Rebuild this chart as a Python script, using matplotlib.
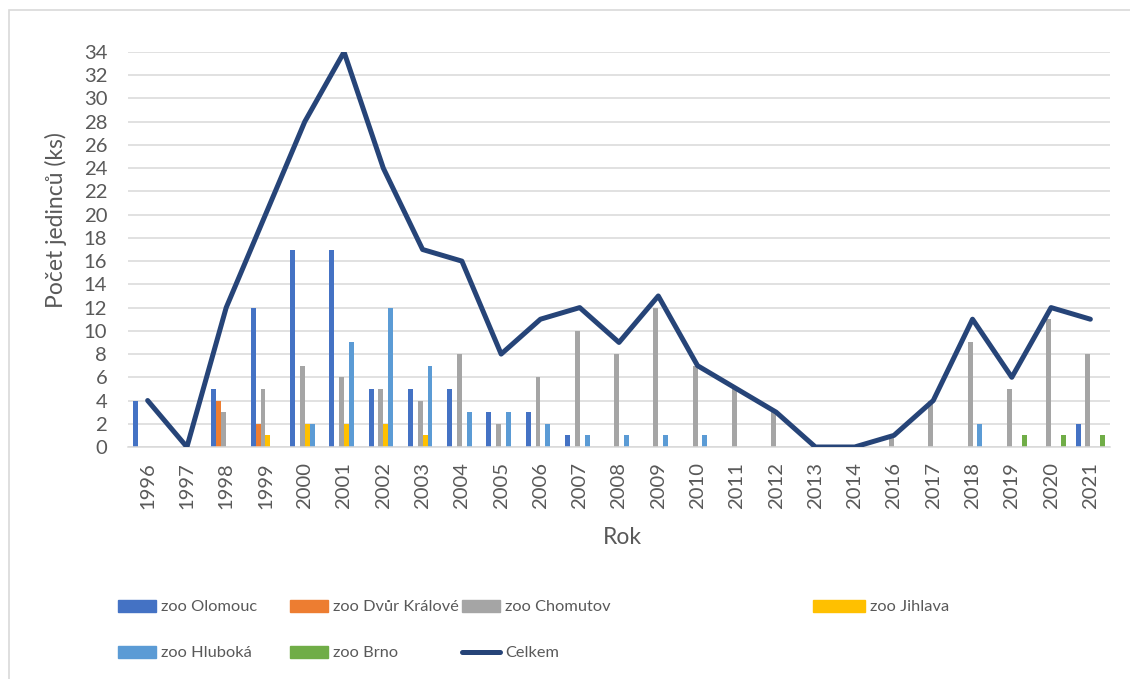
import numpy as np
import matplotlib
matplotlib.use("Agg")
import matplotlib.pyplot as plt
from matplotlib.patches import Patch, Rectangle
from matplotlib.lines import Line2D

plt.rcParams['font.family'] = ['Lato', 'DejaVu Sans']

# Data
years = ['1996', '1997', '1998', '1999', '2000', '2001', '2002', '2003', '2004',
         '2005', '2006', '2007', '2008', '2009', '2010', '2011', '2012', '2013',
         '2014', '2016', '2017', '2018', '2019', '2020', '2021']
olomouc = [4, 0, 5, 12, 17, 17, 5, 5, 5, 3, 3, 1, 0, 0, 0, 0, 0, 0, 0, 0, 0, 0, 0, 0, 2]
dvur_kralove = [0, 0, 4, 2, 0, 0, 0, 0, 0, 0, 0, 0, 0, 0, 0, 0, 0, 0, 0, 0, 0, 0, 0, 0, 0]
chomutov = [0, 0, 3, 5, 7, 6, 5, 4, 8, 2, 6, 10, 8, 12, 7, 5, 3, 0, 0, 1, 4, 9, 5, 11, 8]
jihlava = [0, 0, 0, 1, 2, 2, 2, 1, 0, 0, 0, 0, 0, 0, 0, 0, 0, 0, 0, 0, 0, 0, 0, 0, 0]
hluboka = [0, 0, 0, 0, 2, 9, 12, 7, 3, 3, 2, 1, 1, 1, 1, 0, 0, 0, 0, 0, 0, 2, 0, 0, 0]
brno = [0, 0, 0, 0, 0, 0, 0, 0, 0, 0, 0, 0, 0, 0, 0, 0, 0, 0, 0, 0, 0, 0, 1, 1, 1]
celkem = [4, 0, 12, 20, 28, 34, 24, 17, 16, 8, 11, 12, 9, 13, 7, 5, 3, 0, 0, 1, 4, 11, 6, 12, 11]

series_names = ['zoo Olomouc', 'zoo Dvůr Králové', 'zoo Chomutov', 'zoo Jihlava',
                'zoo Hluboká', 'zoo Brno']
series_values = [olomouc, dvur_kralove, chomutov, jihlava, hluboka, brno]
colors = ['#4472C4', '#ED7D31', '#A5A5A5', '#FFC000', '#5B9BD5', '#70AD47']
line_color = '#264478'
text_color = '#595959'

W, H = 1130, 679
fig = plt.figure(figsize=(W / 100, H / 100), dpi=100)
ax = fig.add_axes([128 / W, 1 - 447 / H, (1110 - 128) / W, (447 - 52) / H])

# chart border
fig.patches.append(Rectangle((9 / W, -0.02), 1.05, 1 - 10 / H + 0.02, transform=fig.transFigure,
                             fill=False, edgecolor='#D9D9D9', linewidth=1.2))

x = np.arange(len(years))
group = 0.75
bw = group / len(series_values)
for i, (vals, c) in enumerate(zip(series_values, colors)):
    offs = -group / 2 + bw * (i + 0.5)
    ax.bar(x + offs, vals, width=bw, color=c, zorder=2)

ax.plot(x, celkem, color=line_color, linewidth=3.6, solid_joinstyle='round',
        solid_capstyle='round', zorder=3)

ax.set_xlim(-0.5, len(years) - 0.5)
ax.set_ylim(0, 34)
ax.set_yticks(np.arange(0, 35, 2))
ax.set_xticks(x)
ax.set_xticklabels(years, rotation=90)
ax.tick_params(axis='both', length=0, labelsize=14.6, colors=text_color)
ax.tick_params(axis='y', pad=15)
ax.tick_params(axis='x', pad=11)
ax.grid(axis='y', color='#D9D9D9', linewidth=1.1, zorder=0)
ax.set_axisbelow(True)
for s in ['top', 'right', 'left']:
    ax.spines[s].set_visible(False)
ax.spines['bottom'].set_color('#D9D9D9')
ax.spines['bottom'].set_linewidth(1.1)

ax.set_xlabel('Rok', fontsize=16.5, color=text_color, va='center')
ax.xaxis.set_label_coords(0.503, (447 - 537) / 395)
ax.set_ylabel('Počet jedinců (ks)', fontsize=16.5, color=text_color, va='center')
ax.yaxis.set_label_coords((56 - 128) / 982, (447 - 220) / 395)

# legend entries, laid out like the original
fs = 11.8
fpx = fs * 100 / 72
entries = [
    (Patch(color=colors[0]), series_names[0], 118, 607, 38),
    (Patch(color=colors[1]), series_names[1], 290, 607, 38),
    (Patch(color=colors[2]), series_names[2], 462, 607, 38),
    (Patch(color=colors[3]), series_names[3], 813, 607, 52),
    (Patch(color=colors[4]), series_names[4], 118, 653, 38),
    (Patch(color=colors[5]), series_names[5], 290, 653, 38),
    (Line2D([], [], color=line_color, linewidth=3.6, solid_capstyle='round'), 'Celkem', 462, 653, 38),
]
for h, lab, lx, ly, hl in entries:
    fig.legend([h], [lab], loc='center left', bbox_to_anchor=(lx / W, 1 - ly / H),
               frameon=False, borderpad=0, borderaxespad=0, fontsize=fs,
               handlelength=hl / fpx, handleheight=0.75, handletextpad=5 / fpx,
               labelcolor=text_color)

fig.savefig('out.png', dpi=100)
